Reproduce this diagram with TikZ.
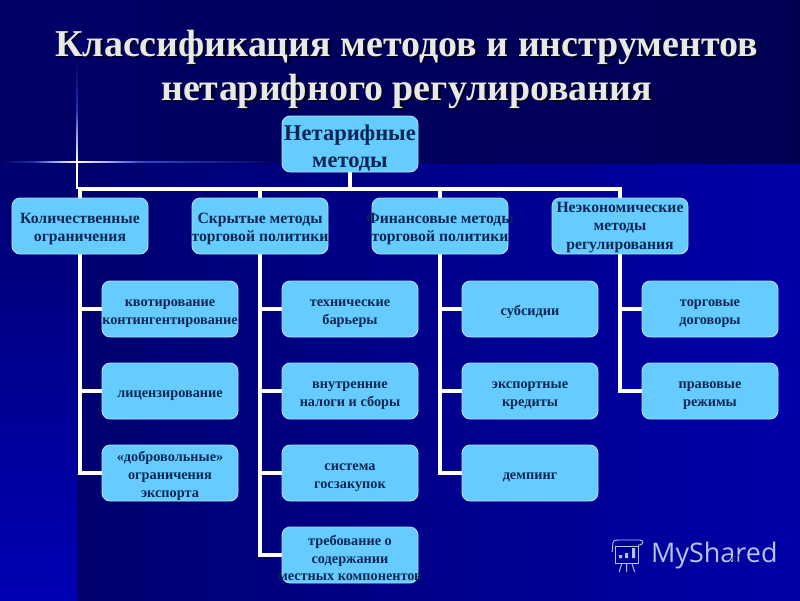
\documentclass[tikz,border=0pt]{standalone}
\usepackage{fontspec}
\setmainfont{Liberation Serif}
\setsansfont{Open Sans}
\usetikzlibrary{
  backgrounds,
  fadings,
  positioning
}
\definecolor{navyband}{RGB}{0,0,104}
\definecolor{deepblue}{RGB}{0,0,112}
\definecolor{brightblue}{RGB}{0,0,168}
\definecolor{stripblue}{RGB}{0,0,180}
\definecolor{boxblue}{RGB}{102,204,255}
\definecolor{boxedge}{RGB}{170,225,255}
\definecolor{boxink}{RGB}{8,38,84}
\definecolor{titlegray}{RGB}{232,232,228}
\definecolor{markblue}{RGB}{180,196,238}
\definecolor{starblue}{RGB}{70,110,255}
\tikzset{
  rootbox/.style={draw=boxedge,thick,fill=boxblue,rounded corners=7pt,
    align=center,minimum width=4.08cm,minimum height=1.68cm,inner sep=0pt,outer sep=0pt,
    text=boxink,font=\fontsize{19.2}{23}\selectfont\bfseries},
  headbox/.style={draw=boxedge,thick,fill=boxblue,rounded corners=7pt,
    align=center,minimum width=4.08cm,minimum height=1.68cm,inner sep=0pt,outer sep=0pt,
    text=boxink,font=\fontsize{13.4}{15.6}\selectfont\bfseries},
  kidbox/.style={headbox,font=\fontsize{12.2}{15.2}\selectfont\bfseries},
  tree/.style={draw=white,line width=4.2pt},
  titletext/.style={align=center,inner sep=0pt,text=titlegray,
    font=\fontsize{32.4}{37.5}\selectfont\bfseries},
  titleshade/.style={align=center,inner sep=0pt,text=black!85!blue,
    font=\fontsize{32.4}{37.5}\selectfont\bfseries},
  markline/.style={draw=markblue,line width=.8pt,line join=round}
}
\newcommand{\wideline}[1]{\makebox[0pt]{#1}}
\newcommand{\lift}[1][14pt]{\rule{0pt}{#1}}
\begin{document}
\begin{tikzpicture}[node distance=7.8mm and 13.2mm]
  \useasboundingbox (0,0) rectangle (24,-18);

  \node[rootbox] (root) at (10.5,-4.32) {\lift[20pt]Нетарифные\\методы};
  \node[headbox] (quant) at (2.4,-6.78) {\lift Количественные\\ограничения};
  \node[headbox,right=of quant] (hidden) {\lift Скрытые методы\\\wideline{торговой политики}};
  \node[headbox,right=of hidden] (money) {\lift\wideline{Финансовые методы}\\\wideline{торговой политики}};
  \node[headbox,right=of money] (other) {\lift[11pt]Неэкономические\\методы\\регулирования};

  \node[kidbox,below=8.1mm of quant,xshift=2.7cm] (quota) {\lift квотирование\\\wideline{контингентирование}};
  \node[kidbox,below=of quota] (licence) {\lift лицензирование};
  \node[kidbox,below=of licence] (volunt) {\lift«добровольные»\\ограничения\\экспорта};

  \node[kidbox,below=8.1mm of hidden,xshift=2.7cm] (techn) {\lift технические\\барьеры};
  \node[kidbox,below=of techn] (taxes) {\lift внутренние\\налоги и сборы};
  \node[kidbox,below=of taxes] (procure) {\lift система\\госзакупок};
  \node[kidbox,below=of procure] (local) {\lift требование о\\содержании\\\wideline{местных компонентов}};

  \node[kidbox,below=8.1mm of money,xshift=2.7cm] (subsid) {\lift субсидии};
  \node[kidbox,below=of subsid] (credit) {\lift экспортные\\кредиты};
  \node[kidbox,below=of credit] (dumping) {\lift демпинг};

  \node[kidbox,below=8.1mm of other,xshift=2.7cm] (treaty) {\lift торговые\\договоры};
  \node[kidbox,below=of treaty] (legal) {\lift правовые\\режимы};

  \coordinate (bus) at (root.south |- 0,-5.67);
  \begin{scope}[on background layer]
    % background of the slide
    \fill[top color=deepblue,bottom color=stripblue] (0,-4.9) rectangle (2.31,-18);
    \fill[left color=deepblue,right color=brightblue] (2.31,-4.9) rectangle (24,-18);
    \fill[left color=navyband,right color=navyband!80!black] (0,0) rectangle (24,-4.9);
    \fill[starblue,path fading=east] (2.31,-4.84) rectangle (8.4,-4.88);
    \fill[starblue,path fading=west] (0,-4.84) rectangle (2.31,-4.88);
    \fill[starblue,path fading=north] (2.29,-4.86) rectangle (2.33,-1.8);
    \fill[white,path fading=east] (2.31,-4.84) rectangle (4.2,-4.88);
    \fill[white,path fading=west] (1.0,-4.84) rectangle (2.31,-4.88);
    \fill[white,path fading=north] (2.29,-4.86) rectangle (2.33,-3.3);
    \fill[white] (2.29,-4.86) rectangle (2.33,-5.67);
    \draw[tree] (root.south)--(bus);
    \draw[tree] (bus)-|(quant.north);
    \draw[tree] (bus)-|(hidden.north);
    \draw[tree] (bus)-|(money.north);
    \draw[tree] (bus)-|(other.north);
    \draw[tree] (quant.south)|-(quota.west);
    \draw[tree] (quant.south)|-(licence.west);
    \draw[tree] (quant.south)|-(volunt.west);
    \draw[tree] (hidden.south)|-(techn.west);
    \draw[tree] (hidden.south)|-(taxes.west);
    \draw[tree] (hidden.south)|-(procure.west);
    \draw[tree] (hidden.south)|-(local.west);
    \draw[tree] (money.south)|-(subsid.west);
    \draw[tree] (money.south)|-(credit.west);
    \draw[tree] (money.south)|-(dumping.west);
    \draw[tree] (other.south)|-(treaty.west);
    \draw[tree] (other.south)|-(legal.west);
  \end{scope}

  \node[titleshade] (shade) at (12.27,-2.14) {Классификация методов и инструментов\\
    нетарифного регулирования};
  \node[titletext] (title) at (12.2,-2.09) {Классификация методов и инструментов\\
    нетарифного регулирования};

  % watermark
  \node[text=markblue,inner sep=0pt,anchor=west,font=\sffamily\fontsize{23}{23}\selectfont] (share)
    at (19.53,-16.65) {MyShared};
  \draw[markline] (18.45,-16.38) rectangle (19.14,-16.89);
  \draw[markline] (18.36,-16.56) .. controls (18.42,-16.35) and (18.3,-16.2) .. (18.54,-16.2)
    -- (19.2,-16.2) .. controls (19.32,-16.2) and (19.32,-16.36) .. (19.14,-16.36);
  \fill[markblue] (18.57,-16.65) rectangle (18.66,-16.74)
    (18.75,-16.59) rectangle (18.84,-16.74) (18.96,-16.44) rectangle (19.05,-16.74);
  \draw[markline] (18.66,-16.89)--(18.57,-17.16) (18.8,-16.89)--(18.8,-17.16) (18.95,-16.89)--(19.04,-17.16);
  \node[text=boxink,inner sep=0pt,font=\fontsize{10}{10}\selectfont] (page) at (22.1,-16.75) {41};
\end{tikzpicture}
\end{document}
